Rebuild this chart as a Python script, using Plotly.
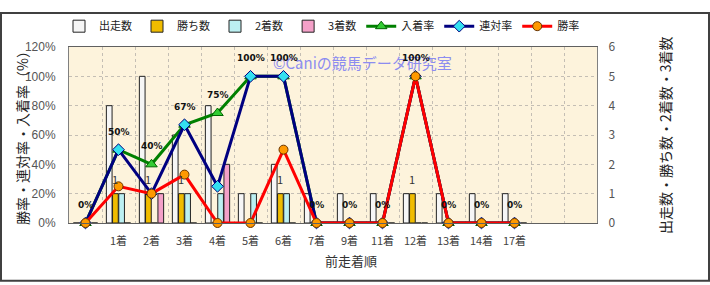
import plotly.graph_objects as go

categories = [" ", "1着", "2着", "3着", "4着", "5着", "6着", "7着", "9着", "11着", "12着", "13着", "14着", "17着"]
extra_categories = ["  ", "   "]

starts = [0, 4, 5, 3, 4, 1, 2, 1, 1, 1, 1, 1, 1, 1]
wins = [0, 1, 1, 1, 0, 0, 1, 0, 0, 0, 1, 0, 0, 0]
seconds = [0, 1, 0, 1, 1, 1, 1, 0, 0, 0, 0, 0, 0, 0]
thirds = [0, 0, 1, 0, 2, 0, 0, 0, 0, 0, 0, 0, 0, 0]

place_rate = [0, 0.50, 0.40, 0.67, 0.75, 1.00, 1.00, 0, 0, 0, 1.00, 0, 0, 0]
quinella_rate = [0, 0.50, 0.20, 0.67, 0.25, 1.00, 1.00, 0, 0, 0, 1.00, 0, 0, 0]
win_rate = [0, 0.25, 0.20, 0.33, 0, 0, 0.50, 0, 0, 0, 1.00, 0, 0, 0]
place_labels = ["0%", "50%", "40%", "67%", "75%", "100%", "100%", "0%", "0%", "0%", "100%", "0%", "0%", "0%"]

FONT = "Noto Sans CJK JP"
all_cats = categories + extra_categories

fig = go.Figure()
bar_line = dict(color="#222222", width=1)
fig.add_trace(go.Bar(name="出走数", x=categories, y=starts, yaxis="y",
                     marker=dict(color="#f6f6f6", line=bar_line)))
fig.add_trace(go.Bar(name="勝ち数", x=categories, y=wins, yaxis="y",
                     marker=dict(color="#f0bc00", line=bar_line)))
fig.add_trace(go.Bar(name="2着数", x=categories, y=seconds, yaxis="y",
                     marker=dict(color="#bcf0f2", line=bar_line)))
fig.add_trace(go.Bar(name="3着数", x=categories, y=thirds, yaxis="y",
                     marker=dict(color="#f4a0c8", line=bar_line)))

fig.add_trace(go.Scatter(name="入着率", x=categories, y=place_rate, yaxis="y2",
                         mode="lines+markers",
                         line=dict(color="#008000", width=3),
                         marker=dict(symbol="triangle-up", size=10, color="#33cc33",
                                     line=dict(color="#006400", width=1)),
                         cliponaxis=False))
fig.add_trace(go.Scatter(name="連対率", x=categories, y=quinella_rate, yaxis="y2",
                         mode="lines+markers", line=dict(color="#000080", width=3),
                         marker=dict(symbol="diamond", size=9, color="#33e0f0",
                                     line=dict(color="#000080", width=1)),
                         cliponaxis=False))
fig.add_trace(go.Scatter(name="勝率", x=categories, y=win_rate, yaxis="y2",
                         mode="lines+markers", line=dict(color="#ff0000", width=3),
                         marker=dict(symbol="circle", size=9, color="#ff9900",
                                     line=dict(color="#663300", width=1)),
                         cliponaxis=False))

L, R, T, B = 69, 113, 37, 62
PW, PH = 710 - L - R, 285 - T - B

annotations = [
    dict(text="勝率・連対率・入着率（%）", xref="paper", yref="paper",
         x=(22 - L) / PW, y=0.5, textangle=-90, showarrow=False,
         xanchor="center", yanchor="middle",
         font=dict(size=14, color="#222222", family=FONT)),
    dict(text="出走数・勝ち数・2着数・3着数", xref="paper", yref="paper",
         x=(665 - L) / PW, y=0.5, textangle=-90, showarrow=False,
         xanchor="center", yanchor="middle",
         font=dict(size=14, color="#222222", family=FONT)),
    dict(text="前走着順", xref="paper", yref="paper",
         x=(351 - L) / PW, y=-(263 - T - PH) / PH, showarrow=False,
         xanchor="center", yanchor="middle",
         font=dict(size=13, color="#333333", family=FONT)),
    dict(text="©Caniの競馬データ研究室", xref="paper", yref="paper",
         x=(362 - L) / PW, y=1 - (53 - T) / PH, showarrow=False,
         xanchor="center", yanchor="middle",
         font=dict(size=15, color="#8c8cf0", family=FONT)),
]
for c, v, lab in zip(categories, place_rate, place_labels):
    annotations.append(dict(text=f"<b>{lab}</b>", x=c, y=v, xref="x", yref="y2",
                            showarrow=False, yshift=18, xanchor="center", yanchor="middle",
                            font=dict(size=9, color="#111111", family="DejaVu Sans")))
for c, v in zip(categories, wins):
    if v:
        annotations.append(dict(text=str(v), x=c, y=v, xref="x", yref="y",
                                showarrow=False, yshift=15, xshift=-4,
                                xanchor="center", yanchor="middle",
                                font=dict(size=11, color="#333333", family=FONT)))

fig.update_layout(
    width=710, height=285,
    margin=dict(l=L, r=R, t=T, b=B),
    paper_bgcolor="white",
    plot_bgcolor="#fdf3dc",
    font=dict(family=FONT, size=11, color="#444444"),
    barmode="group", bargap=0.25, bargroupgap=0.08,
    showlegend=True,
    legend=dict(orientation="h", x=(322 - L) / PW, y=1 + (T - 15) / PH,
                xanchor="center", yanchor="middle",
                font=dict(size=11, color="#222222", family=FONT),
                itemwidth=30, tracegroupgap=0, bgcolor="rgba(0,0,0,0)"),
    xaxis=dict(type="category", categoryorder="array", categoryarray=all_cats,
               range=[-0.5, len(all_cats) - 0.5], tickson="boundaries", tickangle=0,
               showgrid=True, gridcolor="#c4beb4", griddash="dot", gridwidth=1,
               ticks="", showline=True, linecolor="#606060", linewidth=1, mirror=True,
               ticklabelstandoff=8,
               tickfont=dict(size=11, color="#444444")),
    yaxis=dict(side="right", range=[0, 6], dtick=1, showgrid=True,
               gridcolor="#c4beb4", griddash="dot", gridwidth=1,
               showline=True, linecolor="#808080", linewidth=1, ticks="",
               ticklabelstandoff=8, zeroline=False,
               tickfont=dict(size=12, color="#555555")),
    yaxis2=dict(side="left", overlaying="y", range=[0, 1.2], dtick=0.2,
                tickformat=".0%", showgrid=False, zeroline=False,
                showline=True, linecolor="#808080", linewidth=1, ticks="",
                ticklabelstandoff=10,
                tickfont=dict(size=12, color="#555555", family="Liberation Sans")),
    annotations=annotations,
    shapes=[
        dict(type="rect", xref="paper", yref="paper",
             x0=-(L - 1) / PW, x1=1 + (R - 1) / PW, y0=-(B - 1) / PH, y1=1 + (T - 1) / PH,
             line=dict(color="#404040", width=2), layer="above"),
    ],
)

fig.write_html("out.html")
